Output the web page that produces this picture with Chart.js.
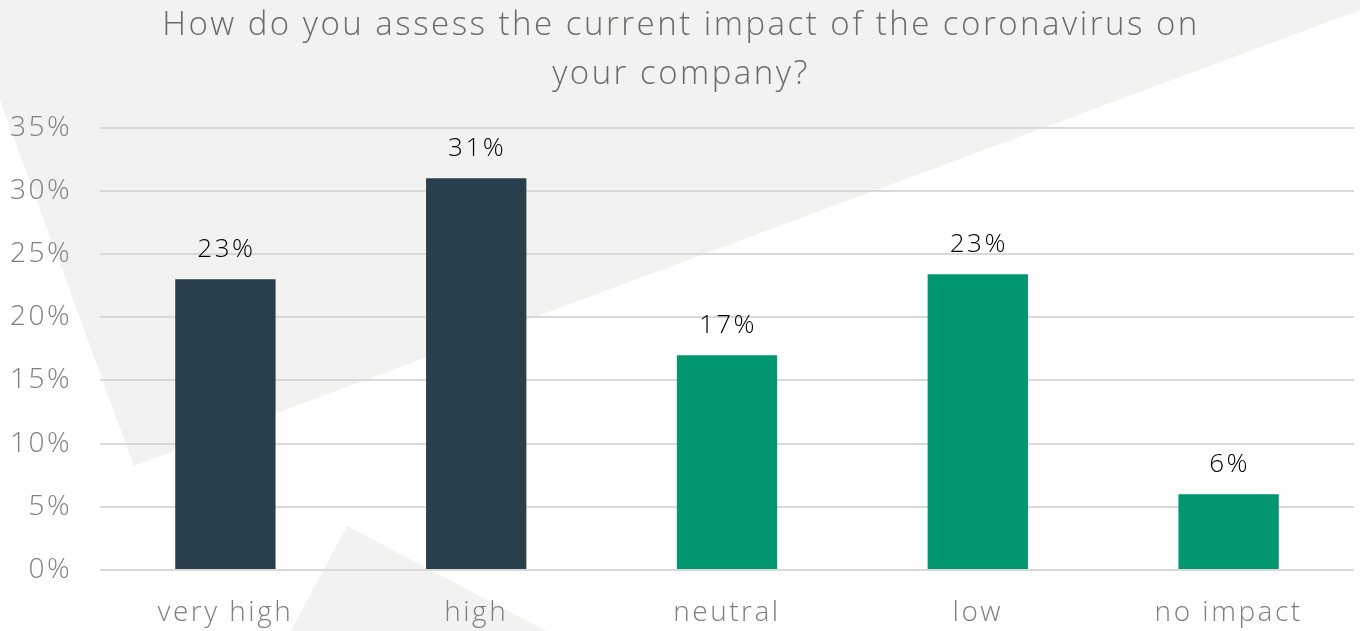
<!DOCTYPE html>
<html>
<head>
<meta charset="utf-8">
<script src="https://cdn.jsdelivr.net/npm/chart.js@4"></script>
<style>
  html, body { margin: 0; padding: 0; background: #ffffff; }
  #wrap { width: 1360px; height: 631px; }
</style>
</head>
<body>
<div id="wrap"><canvas id="impactChart"></canvas></div>
<script>
const categories = ['very high', 'high', 'neutral', 'low', 'no impact'];
const shares = [23, 31, 17, 23.4, 6];
const shareLabels = ['23%', '31%', '17%', '23%', '6%'];
const barColors = ['#2a3f4c', '#2a3f4c', '#00966f', '#00966f', '#00966f'];

const FONT = "'Open Sans'";

// decorative grey shapes behind the chart, plus wider letter spacing for all text
const backdrop = {
  id: 'backdrop',
  beforeUpdate(chart) {
    chart.ctx.letterSpacing = '2.5px';
  },
  beforeDraw(chart) {
    const c = chart.ctx;
    c.letterSpacing = '2.5px';
    c.save();
    c.fillStyle = '#ffffff';
    c.fillRect(0, 0, chart.width, chart.height);
    c.fillStyle = '#f2f2f0';
    c.beginPath();
    c.moveTo(0, 0);
    c.lineTo(1360, 0);
    c.lineTo(1360, 10);
    c.lineTo(134, 466);
    c.lineTo(0, 100);
    c.closePath();
    c.fill();
    c.beginPath();
    c.moveTo(347, 526);
    c.lineTo(546, 631);
    c.lineTo(291, 631);
    c.closePath();
    c.fill();
    c.restore();
  }
};

// value labels above each bar
const barLabels = {
  id: 'barLabels',
  afterDatasetsDraw(chart) {
    const c = chart.ctx;
    const meta = chart.getDatasetMeta(0);
    c.save();
    c.fillStyle = '#000000';
    c.font = '300 26px ' + FONT;
    c.textAlign = 'center';
    c.textBaseline = 'middle';
    meta.data.forEach((bar, i) => {
      c.fillText(shareLabels[i], bar.x + 1, bar.y - 30);
    });
    c.restore();
  }
};

const ctx = document.getElementById('impactChart').getContext('2d');

new Chart(ctx, {
  type: 'bar',
  data: {
    labels: categories,
    datasets: [{
      data: shares,
      backgroundColor: barColors,
      borderWidth: 0,
      barPercentage: 0.4,
      categoryPercentage: 1
    }]
  },
  options: {
    responsive: true,
    maintainAspectRatio: false,
    animation: false,
    layout: { padding: { left: 8, right: 6, top: 0, bottom: 0 } },
    plugins: {
      legend: { display: false },
      tooltip: { enabled: false },
      title: {
        display: true,
        text: ['How do you assess the current impact of the coronavirus on', 'your company?'],
        color: '#6f6a66',
        font: { family: FONT, size: 33, weight: 300, lineHeight: 1.48 },
        padding: { top: 1, bottom: 29 }
      }
    },
    scales: {
      x: {
        grid: { display: false, drawTicks: false },
        border: { display: false },
        ticks: {
          color: '#7f7f7f',
          font: { family: FONT, size: 28, weight: 300 },
          padding: 26
        },
        afterFit(scale) { scale.height = 61; }
      },
      y: {
        min: 0,
        max: 35,
        grid: { color: '#d9d9d9', lineWidth: 2, drawTicks: false },
        border: { display: false },
        ticks: {
          stepSize: 5,
          color: '#7f7f7f',
          font: { family: FONT, size: 28, weight: 300 },
          padding: 28,
          callback: v => v + '%'
        },
        afterFit(scale) { scale.width = 92; }
      }
    }
  },
  plugins: [backdrop, barLabels]
});
</script>
</body>
</html>
